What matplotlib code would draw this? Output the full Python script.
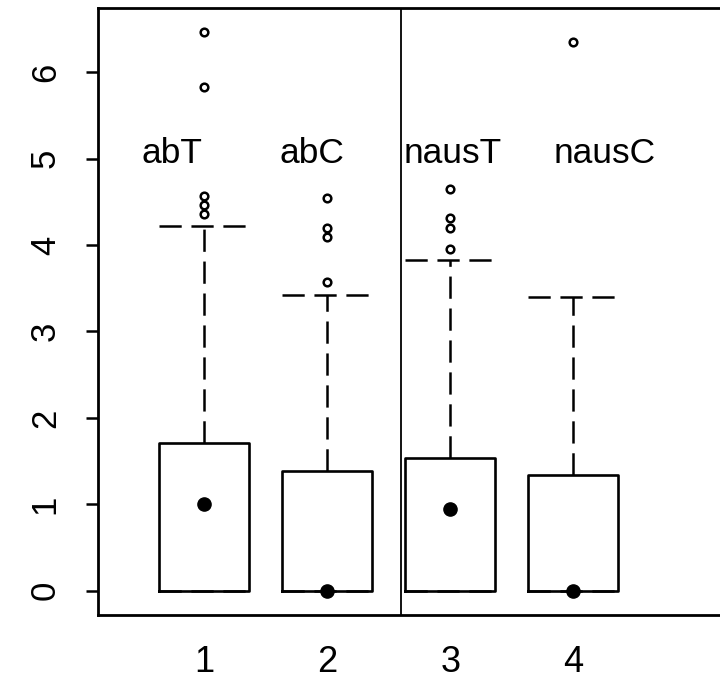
import matplotlib
matplotlib.use("Agg")
import matplotlib.pyplot as plt

plt.rcParams.update({
    "font.family": ["Liberation Sans", "DejaVu Sans"],
    "lines.scale_dashes": False,
})

# data
groups = ["abT", "abC", "nausT", "nausC"]
positions = [1, 2, 3, 4]
q1 = [0.0, 0.0, 0.0, 0.0]
medians = [1.0, 0.0, 0.95, 0.0]
q3 = [1.71, 1.39, 1.53, 1.34]
whisk_hi = [4.22, 3.42, 3.83, 3.40]
outliers = [
    [4.36, 4.46, 4.57, 5.83, 6.46],
    [3.57, 4.09, 4.20, 4.54],
    [3.95, 4.20, 4.31, 4.65],
    [6.35],
]
label_x = [0.74, 1.88, 3.02, 4.25]
label_y = 4.95
yticks = [0, 1, 2, 3, 4, 5, 6]

fig = plt.figure(figsize=(7.2, 6.81), dpi=100)
ax = fig.add_axes([0.136, 0.097, 0.864, 0.891])

stats = []
for i in range(len(groups)):
    stats.append({
        "med": medians[i], "q1": q1[i], "q3": q3[i],
        "whislo": q1[i], "whishi": whisk_hi[i],
        "fliers": outliers[i],
    })

dash = (0, (16, 7))
ax.bxp(stats, positions=positions, widths=0.73, capwidths=0.73,
       boxprops=dict(color="black", linewidth=1.9),
       whiskerprops=dict(color="black", linewidth=1.8, linestyle=dash),
       capprops=dict(color="black", linewidth=1.8, linestyle=dash),
       medianprops=dict(linewidth=0),
       flierprops=dict(marker="o", markerfacecolor="white",
                       markeredgecolor="black", markersize=5.5,
                       markeredgewidth=1.8))

# medians drawn as filled dots
ax.plot(positions, medians, "o", color="black", markersize=9.5, zorder=5)

for x, name in zip(label_x, groups):
    ax.text(x, label_y, name, ha="center", va="baseline", fontsize=25.5)

ax.axvline(2.6, color="black", linewidth=1.3)

ax.set_xlim(0.14, 5.19)
ax.set_ylim(-0.28, 6.74)
ax.set_yticks(yticks)
ax.set_yticklabels([str(v) for v in yticks], rotation=90, va="center",
                   fontsize=25)
ax.set_xticks(positions)
ax.set_xticklabels([str(p) for p in positions], fontsize=26)
ax.tick_params(axis="y", length=9, width=1.8, pad=17)
ax.tick_params(axis="x", length=0, pad=22)

ax.spines["right"].set_visible(False)
for s in ["left", "bottom", "top"]:
    ax.spines[s].set_linewidth(2.0)

fig.savefig("out.png", dpi=100)
